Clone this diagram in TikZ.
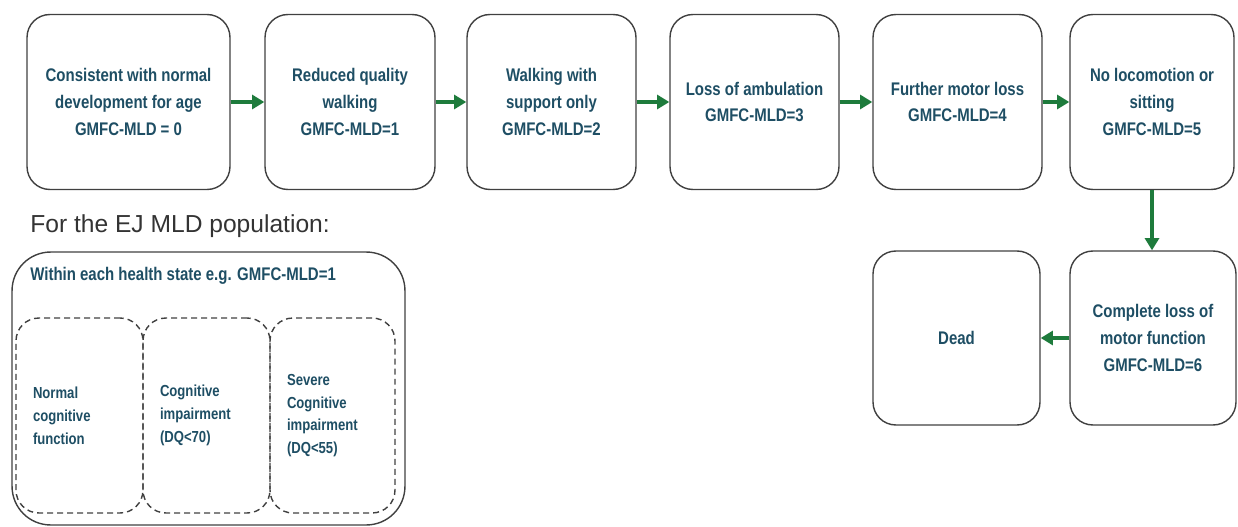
\documentclass[tikz,border=0pt]{standalone}
\usepackage{fontspec}
\setmainfont{Liberation Sans}
\newfontfamily\boxfont[FakeStretch=0.82]{Liberation Sans}
\usepackage{tikz}
\usetikzlibrary{arrows.meta,calc,positioning}
\definecolor{stagetext}{HTML}{1E4E64}
\definecolor{flowgreen}{HTML}{1E7B3C}
\definecolor{boxgray}{HTML}{404040}
\tikzset{
  stage/.style={draw=boxgray,line width=0.8pt,rounded corners=13pt,align=center,
    text=stagetext,font=\boxfont\bfseries\fontsize{10.4}{15.3}\selectfont,
    minimum height=3.5cm,inner sep=2pt},
  cogbox/.style={draw=boxgray,line width=0.8pt,dashed,dash pattern=on 3.4pt off 2.3pt,
    rounded corners=13pt,align=left,text=stagetext,
    font=\boxfont\bfseries\fontsize{9.1}{13}\selectfont,
    minimum height=3.9cm,inner xsep=0.34cm},
  flow/.style={-{Triangle[length=7pt,width=8pt]},line width=2.3pt,flowgreen}
}
\begin{document}
\begin{tikzpicture}[x=0.02cm,y=-0.02cm]
  \useasboundingbox (0,0) rectangle (1238,527);
  \node[stage,minimum width=4.06cm] (gm0) at (128.5,102) {Consistent with normal\\development for age\\GMFC-MLD = 0};
  \node[stage,minimum width=3.4cm] (gm1) at (350,102) {Reduced quality\\walking\\GMFC-MLD=1};
  \node[stage,minimum width=3.38cm] (gm2) at (551.5,102) {Walking with\\support only\\GMFC-MLD=2};
  \node[stage,minimum width=3.38cm] (gm3) at (754.5,102) {Loss of ambulation\\GMFC-MLD=3};
  \node[stage,minimum width=3.38cm] (gm4) at (957.5,102) {Further motor loss\\GMFC-MLD=4};
  \node[stage,minimum width=3.28cm] (gm5) at (1152,102) {No locomotion or\\sitting\\GMFC-MLD=5};
  \node[stage,minimum width=3.32cm,minimum height=3.48cm] (gm6) at (1153,338) {Complete loss of\\motor function\\GMFC-MLD=6};
  \node[stage,minimum width=3.34cm,minimum height=3.48cm] (dead) at (956.5,338) {Dead};
  \draw[flow] (gm0) -- (gm1);
  \draw[flow] (gm1) -- (gm2);
  \draw[flow] (gm2) -- (gm3);
  \draw[flow] (gm3) -- (gm4);
  \draw[flow] (gm4) -- (gm5);
  \draw[flow] (gm5.south) -- (gm5.south |- gm6.north);
  \draw[flow] (gm6) -- (dead);
  \node[anchor=west,text=black!80,font=\fontsize{14}{16}\selectfont,inner sep=0] (poptitle) at (30,226) {For the EJ MLD population:};
  \node[draw=boxgray,line width=0.8pt,rounded corners=22pt,minimum width=7.86cm,minimum height=5.46cm] (popbox) at (208.5,388.5) {};
  \node[anchor=west,text=stagetext,font=\boxfont\bfseries\fontsize{10.4}{12}\selectfont,inner sep=0] (statenote) at (30,276) {Within each health state e.g. GMFC-MLD=1};
  \node[cogbox,minimum width=2.54cm,text width=1.86cm] (cog1) at (79.5,415.5) {Normal\\cognitive\\function};
  \node[cogbox,minimum width=2.54cm,text width=1.86cm] (cog2) at (206.5,415.5) {Cognitive\\impairment\\(DQ<70)};
  \node[cogbox,minimum width=2.5cm,text width=1.82cm] (cog3) at (332.5,415.5) {Severe\\Cognitive\\impairment\\(DQ<55)};
\end{tikzpicture}
\end{document}
